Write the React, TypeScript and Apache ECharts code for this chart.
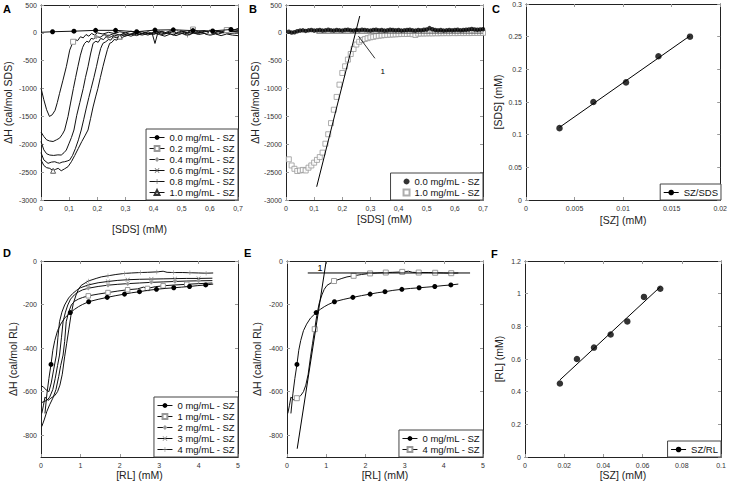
import React, { useEffect, useRef } from 'react';
import * as echarts from 'echarts';

const FONT = 'Liberation Sans';

// ---------- Panel A : [SDS] (mM) vs ΔH (cal/mol SDS) ----------
const aSz00: [number, number][] = [[0, 10], [0.041, 20], [0.117, 30], [0.194, 45], [0.265, 45], [0.34, 20], [0.405, 50], [0.47, 55], [0.54, 40], [0.61, 35], [0.675, 60], [0.7, 55]];
const aSz00Marks = [0.041, 0.117, 0.194, 0.265, 0.34, 0.405, 0.47, 0.54, 0.61, 0.675];
const aSz02: [number, number][] = [[0, -990], [0.01, -1200], [0.02, -1380], [0.03, -1500], [0.04, -1470], [0.05, -1390], [0.058, -1250], [0.066, -1085], [0.078, -850], [0.09, -607], [0.102, -310], [0.114, -160], [0.122, -120], [0.13, -140], [0.14, -70], [0.15, -90], [0.16, -30], [0.17, -60], [0.18, -10], [0.19, -40], [0.2, 0], [0.22, -20], [0.24, 10], [0.26, -10], [0.28, 20], [0.3, 0], [0.32, 30], [0.34, -10], [0.36, 20], [0.38, -20], [0.4, 10], [0.42, 30], [0.44, 0], [0.46, 40], [0.48, -10], [0.5, 30], [0.52, 10], [0.54, 60], [0.56, 20], [0.58, 40], [0.6, 0], [0.62, 30], [0.64, 10], [0.66, 50], [0.68, 40], [0.7, 80]];
const aSz02Marks = [0.114, 0.54, 0.66];
const aSz04: [number, number][] = [[0, -1780], [0.01, -1860], [0.02, -1920], [0.03, -1940], [0.043, -1950], [0.055, -1920], [0.066, -1890], [0.076, -1820], [0.084, -1744], [0.096, -1500], [0.105, -1260], [0.115, -1000], [0.123, -800], [0.131, -607], [0.14, -400], [0.148, -260], [0.155, -188], [0.163, -150], [0.17, -170], [0.178, -100], [0.187, -110], [0.196, -68], [0.21, -80], [0.225, -30], [0.24, -50], [0.26, -10], [0.28, -40], [0.3, 0], [0.32, -30], [0.34, 10], [0.36, -20], [0.38, 20], [0.395, -10], [0.405, -190], [0.415, 0], [0.43, 30], [0.45, -10], [0.47, 20], [0.49, -20], [0.51, 10], [0.53, -30], [0.55, 20], [0.57, 0], [0.59, 30], [0.61, -10], [0.63, 20], [0.65, 0], [0.67, 30], [0.7, 20]];
const aSz04Marks = [0.196, 0.47];
const aSz06: [number, number][] = [[0, -1950], [0.01, -2100], [0.02, -2170], [0.031, -2193], [0.045, -2200], [0.06, -2190], [0.072, -2193], [0.082, -2150], [0.09, -2103], [0.1, -1980], [0.108, -1880], [0.117, -1744], [0.127, -1480], [0.138, -1250], [0.15, -1000], [0.158, -800], [0.167, -607], [0.176, -380], [0.185, -188], [0.195, -150], [0.203, -170], [0.212, -100], [0.222, -120], [0.232, -68], [0.245, -80], [0.26, -40], [0.275, -60], [0.29, -20], [0.31, -40], [0.33, 0], [0.35, -30], [0.37, 10], [0.39, -20], [0.41, 10], [0.43, -30], [0.45, 0], [0.47, -40], [0.49, 10], [0.51, -20], [0.53, 20], [0.55, -10], [0.57, 10], [0.59, -30], [0.61, 0], [0.63, -20], [0.65, 10], [0.67, -10], [0.7, 0]];
const aSz06Marks = [0.232, 0.49];
const aSz08: [number, number][] = [[0, -2150], [0.01, -2280], [0.025, -2342], [0.037, -2320], [0.049, -2313], [0.058, -2330], [0.066, -2340], [0.075, -2320], [0.084, -2313], [0.093, -2300], [0.102, -2283], [0.112, -2200], [0.122, -2080], [0.133, -1920], [0.143, -1744], [0.152, -1550], [0.161, -1350], [0.17, -1160], [0.178, -1000], [0.188, -800], [0.197, -607], [0.205, -420], [0.212, -280], [0.22, -188], [0.23, -160], [0.24, -120], [0.248, -130], [0.256, -68], [0.27, -90], [0.285, -40], [0.3, -60], [0.32, -20], [0.34, -50], [0.36, -10], [0.38, -40], [0.4, 0], [0.42, -30], [0.44, -60], [0.46, -20], [0.48, -50], [0.5, -10], [0.52, -40], [0.54, 0], [0.56, -30], [0.58, -10], [0.6, -40], [0.62, -20], [0.64, -50], [0.66, -20], [0.68, -40], [0.7, -50]];
const aSz08Marks = [0.256, 0.52];
const aSz10: [number, number][] = [[0, -2280], [0.01, -2380], [0.02, -2420], [0.031, -2432], [0.043, -2475], [0.052, -2450], [0.061, -2432], [0.072, -2475], [0.084, -2440], [0.096, -2402], [0.108, -2313], [0.12, -2200], [0.132, -2080], [0.145, -1950], [0.156, -1850], [0.167, -1744], [0.176, -1540], [0.185, -1330], [0.194, -1150], [0.202, -1000], [0.211, -800], [0.22, -607], [0.228, -450], [0.236, -300], [0.244, -188], [0.252, -170], [0.26, -120], [0.27, -130], [0.28, -68], [0.29, -80], [0.305, -40], [0.32, -60], [0.34, -20], [0.36, -40], [0.38, -10], [0.4, -30], [0.42, 10], [0.44, -20], [0.46, 20], [0.48, -10], [0.5, 30], [0.52, 0], [0.54, 20], [0.56, -10], [0.58, 30], [0.6, 10], [0.62, 40], [0.64, 20], [0.66, 50], [0.68, 30], [0.7, 40]];
const aSz10Marks = [0.043, 0.28, 0.6];

// ---------- Panel B ----------
const bSds = [0.01, 0.02, 0.03, 0.04, 0.05, 0.06, 0.07, 0.08, 0.09, 0.1, 0.11, 0.12, 0.13, 0.14, 0.15, 0.16, 0.17, 0.18, 0.19, 0.2, 0.21, 0.22, 0.23, 0.24, 0.25, 0.26, 0.27, 0.28, 0.29, 0.3, 0.31, 0.32, 0.33, 0.34, 0.35, 0.36, 0.37, 0.38, 0.39, 0.4, 0.41, 0.42, 0.43, 0.44, 0.45, 0.46, 0.47, 0.48, 0.49, 0.5, 0.51, 0.52, 0.53, 0.54, 0.55, 0.56, 0.57, 0.58, 0.59, 0.6, 0.61, 0.62, 0.63, 0.64, 0.65, 0.66, 0.67, 0.68, 0.69, 0.7];
const bH00 = [20, 5, 10, 30, 40, 45, 35, 45, 50, 40, 45, 50, 40, 45, 55, 45, 40, 50, 45, 40, 50, 55, 45, 40, 50, 45, 55, 50, 45, 40, 50, 55, 45, 50, 40, 45, 55, 50, 45, 50, 40, 45, 50, 55, 45, 40, 50, 45, 55, 60, 85, 65, 50, 45, 50, 40, 45, 50, 45, 50, 55, 45, 50, 55, 60, 70, 60, 55, 60, 65];
const bH10 = [-2270, -2380, -2440, -2480, -2470, -2460, -2470, -2420, -2380, -2330, -2280, -2230, -2150, -1990, -1820, -1620, -1380, -1150, -930, -720, -600, -480, -380, -290, -210, -160, -130, -110, -95, -80, -72, -60, -52, -46, -40, -36, -32, -29, -26, -23, -21, -19, -20, -16, -24, -38, -15, -12, -11, -10, -8, -10, -6, -8, -5, -6, -4, -6, -3, -5, -4, -3, -5, -2, -4, -3, -2, -3, -1, 0];
const bTangent: [number, number][] = [[0.109, -2762], [0.262, 302]];
const bBaseline: [number, number][] = [[0.108, -5], [0.7, -5]];
const bArrow: [number, number][] = [[0.316, -457], [0.257, -56]];
const bLabelAt: [number, number] = [0.344, -697];

// ---------- Panel C ----------
const cSz = [0.00345, 0.00694, 0.0103, 0.01364, 0.01689];
const cSds = [0.11, 0.15, 0.18, 0.22, 0.25];

// ---------- Panels D / E : [RL] (mM) vs ΔH (cal/mol RL) ----------
const rl00: [number, number][] = [[0.1, -700], [0.15, -610], [0.2, -540], [0.254, -475], [0.3, -410], [0.35, -365], [0.42, -320], [0.5, -290], [0.6, -262], [0.744, -237], [0.85, -222], [0.95, -210], [1.05, -200], [1.21, -187], [1.45, -176], [1.68, -167], [1.9, -159], [2.12, -152], [2.3, -146], [2.5, -141], [2.7, -135], [2.93, -130], [3.15, -126], [3.37, -123], [3.57, -120], [3.77, -117], [3.98, -113], [4.18, -110], [4.37, -106]];
const rl00Marks = [0.254, 0.744, 1.21, 1.68, 2.12, 2.5, 2.93, 3.37, 3.77, 4.18];
const rl10: [number, number][] = [[0.02, -760], [0.08, -730], [0.15, -690], [0.22, -660], [0.3, -630], [0.38, -590], [0.45, -530], [0.5, -480], [0.56, -432], [0.6, -370], [0.64, -279], [0.7, -235], [0.77, -202], [0.85, -185], [0.95, -175], [1.05, -168], [1.2, -160], [1.45, -152], [1.7, -145], [1.95, -138], [2.2, -132], [2.45, -128], [2.6, -120], [2.7, -126], [2.9, -118], [3.1, -114], [3.4, -110], [3.7, -107], [4.0, -104], [4.35, -101]];
const rl10Marks = [1.2, 1.7, 2.2, 2.7, 3.1, 3.7];
const rl20: [number, number][] = [[0.02, -650], [0.08, -645], [0.15, -640], [0.22, -625], [0.3, -590], [0.36, -540], [0.42, -480], [0.47, -432], [0.52, -350], [0.56, -279], [0.62, -235], [0.68, -202], [0.75, -175], [0.85, -155], [0.95, -142], [1.05, -133], [1.2, -125], [1.45, -117], [1.7, -111], [1.95, -107], [2.2, -104], [2.5, -101], [2.8, -98], [3.1, -96], [3.4, -94], [3.7, -92], [4.0, -91], [4.35, -90]];
const rl20Marks = [1.2, 1.7, 2.2, 2.8, 3.4, 4.0];
const rl30: [number, number][] = [[0.0, -573], [0.06, -578], [0.13, -592], [0.2, -600], [0.26, -560], [0.32, -500], [0.39, -432], [0.43, -350], [0.47, -279], [0.53, -235], [0.6, -202], [0.7, -170], [0.8, -150], [0.9, -135], [1.0, -123], [1.2, -110], [1.45, -100], [1.7, -94], [1.95, -89], [2.2, -86], [2.5, -84], [2.8, -83], [3.1, -82], [3.4, -81], [3.7, -80], [4.0, -80], [4.35, -79]];
const rl30Marks = [1.2, 1.7, 2.2, 2.8, 3.4, 4.0];
const rl40: [number, number][] = [[0.02, -700], [0.06, -665], [0.1, -625], [0.14, -632], [0.18, -640], [0.25, -630], [0.35, -618], [0.42, -600], [0.48, -570], [0.54, -520], [0.6, -440], [0.65, -380], [0.707, -313], [0.76, -250], [0.82, -195], [0.89, -156], [0.95, -130], [1.02, -112], [1.2, -92], [1.4, -80], [1.53, -73], [1.7, -68], [1.9, -62], [2.12, -57], [2.3, -55], [2.52, -53], [2.7, -52], [2.94, -50], [3.1, -47], [3.2, -52], [3.36, -53], [3.6, -53], [3.78, -54], [4.0, -55], [4.19, -56], [4.37, -55]];
const rl40Marks = [0.25, 0.707, 1.2, 1.7, 2.12, 2.52, 2.94, 3.36, 3.78, 4.19];
const rl40MarksD = [1.2, 1.7, 2.12, 2.52, 2.94, 3.36, 3.78, 4.19];
const eTangent: [number, number][] = [[0.26, -862], [1.0, 0]];
const eBaseline: [number, number][] = [[0.53, -55], [4.67, -55]];
const eLabelAt: [number, number] = [0.843, -30];

// ---------- Panel F ----------
const fSz = [0.0178, 0.0265, 0.0352, 0.0437, 0.0522, 0.0607, 0.069];
const fRl = [0.45, 0.6, 0.67, 0.75, 0.83, 0.98, 1.03];

// tick labels
const rlTicks = [0, -200, -400, -600, -800];

const X_SYM = 'path://M0,1L1,0L5,4L9,0L10,1L6,5L10,9L9,10L5,6L1,10L0,9L4,5Z';
const PLUS_SYM = 'path://M4.4,0H5.6V4.4H10V5.6H5.6V10H4.4V5.6H0V4.4H4.4Z';

function fitLine(xs: number[], ys: number[]): [number, number][] {
  const n = xs.length;
  const mx = xs.reduce((s, v) => s + v, 0) / n;
  const my = ys.reduce((s, v) => s + v, 0) / n;
  let sxy = 0, sxx = 0;
  for (let i = 0; i < n; i++) { sxy += (xs[i] - mx) * (ys[i] - my); sxx += (xs[i] - mx) ** 2; }
  const k = sxy / sxx;
  const b = my - k * mx;
  const x0 = Math.min(...xs), x1 = Math.max(...xs);
  return [[x0, k * x0 + b], [x1, k * x1 + b]];
}

const AXC = '#222';
const TICKC = '#999';
const lbl = { fontFamily: FONT, fontSize: 7, color: '#333' };
const nameStyle = { fontFamily: FONT, fontSize: 10.5, color: '#222' };
const commaFmt = (v: number) => (v === 0 ? '0' : v.toFixed(1).replace('.', ','));
const plainFmt = (v: number) => String(v);

function xMain(i: number, min: number, max: number, interval: number, fmt: any, name: string, gap: number) {
  return {
    type: 'value', gridIndex: i, position: 'bottom', min, max, interval,
    axisLine: { show: true, onZero: false, lineStyle: { color: AXC, width: 1 } },
    axisTick: { show: true, inside: true, length: 3, lineStyle: { color: TICKC } },
    axisLabel: { ...lbl, margin: 5, formatter: fmt, showMinLabel: true, showMaxLabel: true },
    splitLine: { show: false },
    name, nameLocation: 'middle', nameGap: gap, nameTextStyle: nameStyle,
  };
}
function xTop(i: number, min: number, max: number, interval: number) {
  return {
    type: 'value', gridIndex: i, position: 'top', min, max, interval,
    axisLine: { show: true, onZero: false, lineStyle: { color: AXC, width: 1 } },
    axisTick: { show: true, inside: true, length: 3, lineStyle: { color: TICKC } },
    axisLabel: { show: false }, splitLine: { show: false },
  };
}
function yMain(i: number, min: number, max: number, interval: number, fmt: any, name: string, gap: number, custom?: number[]) {
  return {
    type: 'value', gridIndex: i, position: 'left', min, max, interval,
    axisLine: { show: true, onZero: false, lineStyle: { color: AXC, width: 1 } },
    axisTick: { show: true, inside: true, length: 3, lineStyle: { color: TICKC }, ...(custom ? { customValues: custom } : {}) },
    axisLabel: { ...lbl, margin: 4, formatter: fmt, showMinLabel: true, showMaxLabel: true, ...(custom ? { customValues: custom } : {}) },
    splitLine: { show: false },
    name, nameLocation: 'middle', nameGap: gap, nameTextStyle: nameStyle,
  };
}
function yRight(i: number, min: number, max: number, interval: number, custom?: number[]) {
  return {
    type: 'value', gridIndex: i, position: 'right', min, max, interval,
    axisLine: { show: true, onZero: false, lineStyle: { color: AXC, width: 1 } },
    axisTick: { show: true, inside: true, length: 3, lineStyle: { color: TICKC }, ...(custom ? { customValues: custom } : {}) },
    axisLabel: { show: false }, splitLine: { show: false },
  };
}

function curve(name: string | undefined, g: number, data: [number, number][], marks: number[], symbol: string, size: number, itemStyle: any, z = 3) {
  return {
    type: 'line', name, xAxisIndex: g, yAxisIndex: g, data, symbol, showSymbol: true, showAllSymbol: true,
    symbolSize: (v: number[]) => (marks.includes(v[0]) ? size : 0),
    lineStyle: { color: '#111', width: 1 }, itemStyle, silent: true, z,
  };
}
function plainLine(g: number, data: [number, number][], color: string, extra: any = {}) {
  return {
    type: 'line', xAxisIndex: g, yAxisIndex: g, data, symbol: 'none', showSymbol: false,
    lineStyle: { color, width: 1 }, itemStyle: { color }, silent: true, z: 4, ...extra,
  };
}

function legend(names: string[], right: number, bottom: number, itemWidth: number, itemHeight: number, padding: number[] = [3, 3, 2, 3]) {
  return {
    show: true, orient: 'vertical', right, bottom, data: names,
    formatter: (n: string) => n.split('|')[1],
    itemWidth, itemHeight, itemGap: 0, padding,
    backgroundColor: '#fff', borderColor: '#444', borderWidth: 1, borderRadius: 0,
    lineStyle: { width: 1 },
    textStyle: { fontFamily: FONT, fontSize: 9.5, color: '#111', lineHeight: 11 },
    selectedMode: false,
  };
}

const grayHollowSq = { color: '#fff', borderColor: '#999', borderWidth: 1 };

function buildOption() {
  const cFit = fitLine(cSz, cSds);
  const fFit = fitLine(fSz, fRl);
  const cPts = cSz.map((x, i) => [x, cSds[i]]);
  const fPts = fSz.map((x, i) => [x, fRl[i]]);
  const b00 = bSds.map((x, i) => [x, bH00[i]]);
  const b10 = bSds.map((x, i) => [x, bH10[i]]);

  const letters = [['A', 3, 3], ['B', 249, 3], ['C', 492, 3], ['D', 3, 247], ['E', 244, 247], ['F', 491, 248]];

  return {
    animation: false,
    backgroundColor: '#fff',
    textStyle: { fontFamily: FONT },
    grid: [
      { left: 41, top: 5, width: 197, height: 195 },
      { left: 286, top: 5, width: 197, height: 195 },
      { left: 526, top: 4, width: 195, height: 196 },
      { left: 41, top: 261, width: 197, height: 196 },
      { left: 287, top: 261, width: 196, height: 196 },
      { left: 525, top: 261, width: 196, height: 196 },
    ],
    xAxis: [
      xMain(0, 0, 0.7, 0.1, commaFmt, '[SDS] (mM)', 23),
      xMain(1, 0, 0.7, 0.1, commaFmt, '[SDS] (mM)', 13),
      xMain(2, 0, 0.02, 0.005, plainFmt, '[SZ] (mM)', 14),
      xMain(3, 0, 5, 1, plainFmt, '[RL] (mM)', 12.5),
      xMain(4, 0, 5, 1, plainFmt, '[RL] (mM)', 12.5),
      xMain(5, 0, 0.1, 0.02, plainFmt, '[SZ] (mM)', 12.5),
      xTop(0, 0, 0.7, 0.1), xTop(1, 0, 0.7, 0.1), xTop(2, 0, 0.02, 0.005),
      xTop(3, 0, 5, 1), xTop(4, 0, 5, 1), xTop(5, 0, 0.1, 0.02),
    ],
    yAxis: [
      yMain(0, -3000, 500, 500, plainFmt, 'ΔH (cal/mol SDS)', 28),
      yMain(1, -3000, 500, 500, plainFmt, 'ΔH (cal/mol SDS)', 24),
      yMain(2, 0, 0.3, 0.05, plainFmt, '[SDS] (mM)', 23),
      yMain(3, -900, 0, 100, plainFmt, 'ΔH (cal/mol RL)', 23, rlTicks),
      yMain(4, -900, 0, 100, plainFmt, 'ΔH (cal/mol RL)', 25, rlTicks),
      yMain(5, 0, 1.2, 0.2, plainFmt, '[RL] (mM)', 21),
      yRight(0, -3000, 500, 500), yRight(1, -3000, 500, 500), yRight(2, 0, 0.3, 0.05),
      yRight(3, -900, 0, 100, rlTicks), yRight(4, -900, 0, 100, rlTicks), yRight(5, 0, 1.2, 0.2),
    ],
    legend: [
      legend(['A|0.0 mg/mL - SZ', 'A|0.2 mg/mL - SZ', 'A|0.4 mg/mL - SZ', 'A|0.6 mg/mL - SZ', 'A|0.8 mg/mL - SZ', 'A|1.0 mg/mL - SZ'], 492, 293, 15, 6),
      legend(['B|0.0 mg/mL - SZ', 'B|1.0 mg/mL - SZ'], 247, 293, 6, 6, [3, 3, 2, 12]),
      legend(['C|SZ/SDS'], 9, 293, 15, 7),
      legend(['D|0 mg/mL - SZ', 'D|1 mg/mL - SZ', 'D|2 mg/mL - SZ', 'D|3 mg/mL - SZ', 'D|4 mg/mL - SZ'], 492, 36, 15, 6),
      legend(['E|0 mg/mL - SZ', 'E|4 mg/mL - SZ'], 247, 36, 15, 6),
      legend(['F|SZ/RL'], 9, 36, 15, 7),
    ],
    graphic: letters.map(([t, x, y]) => ({
      type: 'text', x, y, silent: true,
      style: { text: t, fontFamily: FONT, fontSize: 11, fontWeight: 'bold', fill: '#000', verticalAlign: 'top' },
    })),
    series: [
      // A
      curve('A|1.0 mg/mL - SZ', 0, aSz10, aSz10Marks, 'triangle', 5, { color: '#fff', borderColor: '#333', borderWidth: 0.8 }),
      curve('A|0.8 mg/mL - SZ', 0, aSz08, aSz08Marks, PLUS_SYM, 5, { color: '#555' }),
      curve('A|0.6 mg/mL - SZ', 0, aSz06, aSz06Marks, X_SYM, 5, { color: '#555' }),
      curve('A|0.4 mg/mL - SZ', 0, aSz04, aSz04Marks, 'diamond', 5, { color: '#999' }),
      curve('A|0.2 mg/mL - SZ', 0, aSz02, aSz02Marks, 'rect', 5, grayHollowSq),
      curve('A|0.0 mg/mL - SZ', 0, aSz00, aSz00Marks, 'circle', 5, { color: '#000' }, 5),
      // B
      plainLine(1, bBaseline, '#555'),
      {
        ...plainLine(1, bTangent, '#000'),
        markLine: {
          silent: true, symbol: ['none', 'arrow'], symbolSize: [0, 6],
          lineStyle: { color: '#000', width: 0.8, type: 'solid' }, label: { show: false },
          data: [[{ coord: bArrow[0] }, { coord: bArrow[1] }]],
        },
        markPoint: {
          silent: true, symbol: 'circle', symbolSize: 0,
          label: { show: true, formatter: '1', position: 'inside', fontFamily: FONT, fontSize: 8, color: '#000' },
          data: [{ coord: bLabelAt }],
        },
      },
      { type: 'scatter', name: 'B|1.0 mg/mL - SZ', xAxisIndex: 1, yAxisIndex: 1, data: b10, symbol: 'rect', symbolSize: 5, itemStyle: grayHollowSq, silent: true, z: 2 },
      { type: 'scatter', name: 'B|0.0 mg/mL - SZ', xAxisIndex: 1, yAxisIndex: 1, data: b00, symbol: 'circle', symbolSize: 4.5, itemStyle: { color: '#000' }, silent: true, z: 3 },
      // C
      { ...plainLine(2, cFit, '#000'), name: 'C|SZ/SDS', symbol: 'circle', itemStyle: { color: '#000' } },
      { type: 'scatter', xAxisIndex: 2, yAxisIndex: 2, data: cPts, symbol: 'circle', symbolSize: 6.5, itemStyle: { color: '#000' }, silent: true, z: 5 },
      // D
      curve('D|4 mg/mL - SZ', 3, rl40, rl40MarksD, PLUS_SYM, 4.5, { color: '#888' }),
      curve('D|3 mg/mL - SZ', 3, rl30, rl30Marks, X_SYM, 4.5, { color: '#888' }),
      curve('D|2 mg/mL - SZ', 3, rl20, rl20Marks, 'diamond', 4.5, { color: '#999' }),
      curve('D|1 mg/mL - SZ', 3, rl10, rl10Marks, 'rect', 4.5, grayHollowSq),
      curve('D|0 mg/mL - SZ', 3, rl00, rl00Marks, 'circle', 5, { color: '#000' }, 5),
      // E
      curve('E|4 mg/mL - SZ', 4, rl40, rl40Marks, 'rect', 5, grayHollowSq),
      curve('E|0 mg/mL - SZ', 4, rl00, rl00Marks, 'circle', 5, { color: '#000' }, 5),
      plainLine(4, eBaseline, '#000'),
      {
        ...plainLine(4, eTangent, '#000'),
        markPoint: {
          silent: true, symbol: 'circle', symbolSize: 0,
          label: { show: true, formatter: '1', position: 'inside', fontFamily: FONT, fontSize: 9, color: '#000' },
          data: [{ coord: eLabelAt }],
        },
      },
      // F
      { ...plainLine(5, fFit, '#000'), name: 'F|SZ/RL', symbol: 'circle', itemStyle: { color: '#000' } },
      { type: 'scatter', xAxisIndex: 5, yAxisIndex: 5, data: fPts, symbol: 'circle', symbolSize: 6.5, itemStyle: { color: '#000' }, silent: true, z: 5 },
    ],
  };
}

export default function App() {
  const ref = useRef<HTMLDivElement>(null);
  useEffect(() => {
    if (!ref.current) return;
    const chart = echarts.init(ref.current, null, { renderer: 'svg' });
    chart.setOption(buildOption() as any);
    return () => chart.dispose();
  }, []);
  return <div ref={ref} style={{ position: 'absolute', left: 0, top: 0, width: 730, height: 493, background: '#fff' }} />;
}
